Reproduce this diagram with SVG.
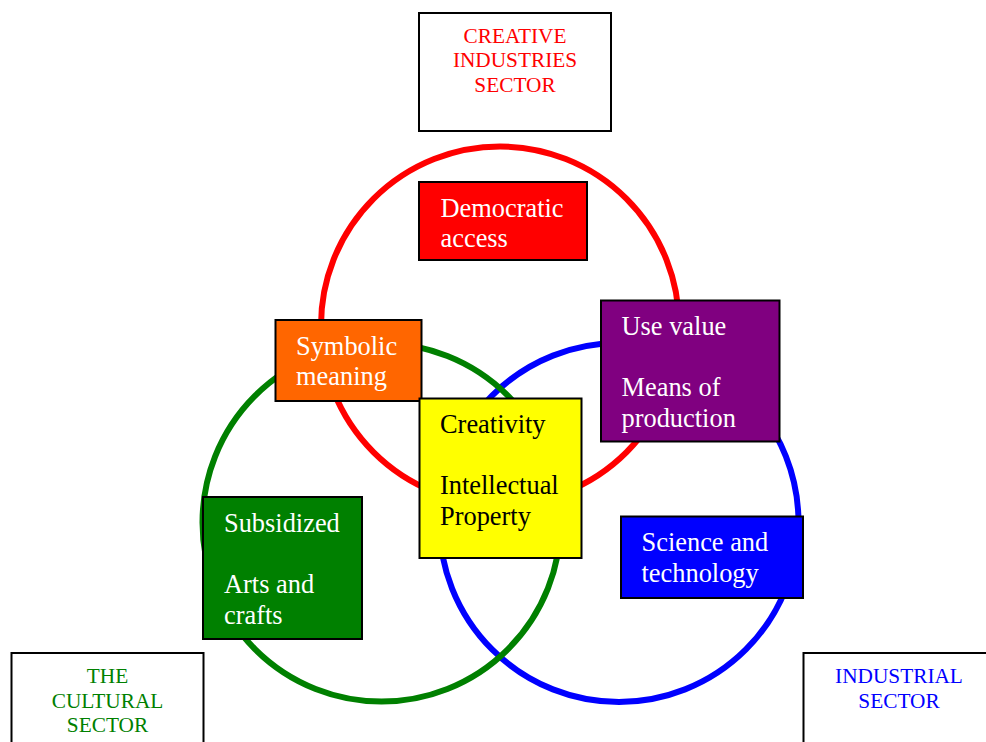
<svg xmlns="http://www.w3.org/2000/svg" width="986" height="742" viewBox="0 0 986 742">
<style>
.box{stroke:#000;stroke-width:2}
.ring{fill:none;stroke-width:6}
.lbl{font-family:"Liberation Serif","Times New Roman",serif;font-size:26.4px;fill:#fff}
.sec{font-family:"Liberation Serif","Times New Roman",serif;font-size:21.3px;text-anchor:middle}
</style>
<rect width="986" height="742" fill="#fff"/>
<g id="connectors">
<circle class="ring" cx="500" cy="325.5" r="179" stroke="#FF0000"/>
<circle class="ring" cx="619" cy="522.5" r="179.5" stroke="#0000FF"/>
<circle class="ring" cx="381.5" cy="522.5" r="179" stroke="#008000"/>
</g>
<g id="creative-sector">
<rect class="box" x="419" y="13" width="192" height="118" fill="#fff"/>
<text class="sec" fill="#FF0000"><tspan x="515" y="42.5">CREATIVE</tspan><tspan x="515" y="67">INDUSTRIES</tspan><tspan x="515" y="91.5">SECTOR</tspan></text>
</g>
<g id="democratic">
<rect class="box" x="419" y="182" width="168" height="78" fill="#FF0000"/>
<text class="lbl"><tspan x="440.5" y="217">Democratic</tspan><tspan x="440.5" y="247">access</tspan></text>
</g>
<g id="symbolic">
<rect class="box" x="275.5" y="320" width="146" height="81" fill="#FF6600"/>
<text class="lbl"><tspan x="296" y="355">Symbolic</tspan><tspan x="296" y="384.5">meaning</tspan></text>
</g>
<g id="usevalue">
<rect class="box" x="601" y="300.5" width="178.5" height="141" fill="#800080"/>
<text class="lbl"><tspan x="621.5" y="335">Use value</tspan><tspan x="621.5" y="396">Means of</tspan><tspan x="621.5" y="426.5">production</tspan></text>
</g>
<g id="creativity">
<rect class="box" x="419.5" y="398.5" width="162" height="159.5" fill="#FFFF00"/>
<text class="lbl" style="fill:#000"><tspan x="440" y="433">Creativity</tspan><tspan x="440" y="494">Intellectual</tspan><tspan x="440" y="525">Property</tspan></text>
</g>
<g id="subsidized">
<rect class="box" x="203" y="497" width="159" height="142" fill="#008000"/>
<text class="lbl"><tspan x="224" y="532">Subsidized</tspan><tspan x="224" y="593">Arts and</tspan><tspan x="224" y="623.5">crafts</tspan></text>
</g>
<g id="science">
<rect class="box" x="621" y="516.5" width="182" height="81.5" fill="#0000FF"/>
<text class="lbl"><tspan x="641.5" y="551">Science and</tspan><tspan x="641.5" y="582">technology</tspan></text>
</g>
<g id="cultural-sector">
<rect class="box" x="11.5" y="653" width="192" height="110" fill="#fff"/>
<text class="sec" fill="#008000"><tspan x="107.5" y="683">THE</tspan><tspan x="107.5" y="708">CULTURAL</tspan><tspan x="107.5" y="732">SECTOR</tspan></text>
</g>
<g id="industrial-sector">
<rect class="box" x="803.5" y="653" width="200" height="110" fill="#fff"/>
<text class="sec" fill="#0000FF"><tspan x="899" y="682.5">INDUSTRIAL</tspan><tspan x="899" y="707.5">SECTOR</tspan></text>
</g>
</svg>
